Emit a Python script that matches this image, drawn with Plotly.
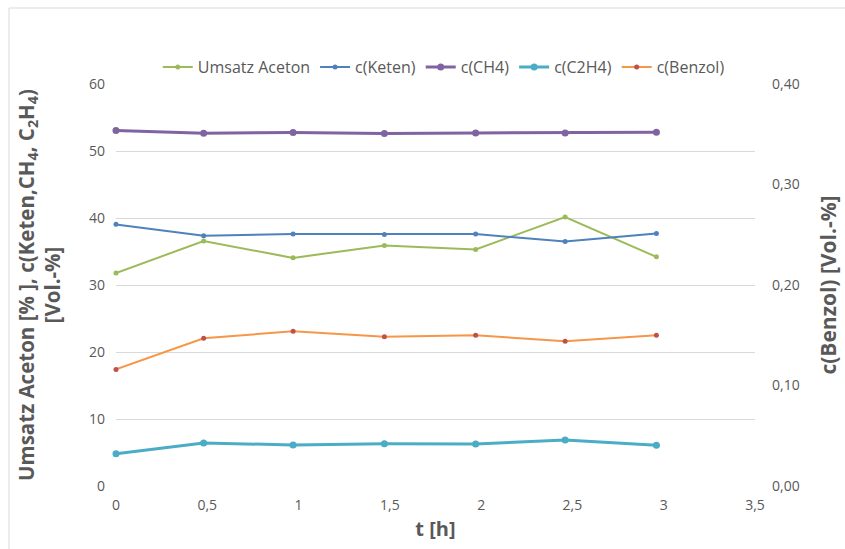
import plotly.graph_objects as go

# Messzeitpunkte [h]
t_h = [0, 0.48, 0.97, 1.47, 1.97, 2.46, 2.96]

# Linke Achse: Umsatz [%] bzw. Konzentrationen [Vol.-%]
umsatz_aceton = [31.8, 36.55, 34.05, 35.9, 35.3, 40.15, 34.2]
c_keten = [39.05, 37.35, 37.6, 37.55, 37.6, 36.5, 37.7]
c_ch4 = [53.05, 52.65, 52.75, 52.6, 52.7, 52.7, 52.8]
c_c2h4 = [4.82, 6.42, 6.12, 6.31, 6.27, 6.87, 6.07]

# Rechte Achse: Benzol [Vol.-%]
c_benzol = [0.116, 0.147, 0.154, 0.1485, 0.150, 0.144, 0.150]

x_ticks = [0, 0.5, 1, 1.5, 2, 2.5, 3, 3.5]
y_left_ticks = [0, 10, 20, 30, 40, 50, 60]
y_right_ticks = [0.0, 0.1, 0.2, 0.3, 0.4]

GREY = "#595959"
FONT = "Open Sans"

fig = go.Figure()


def add_series(name, y, line_color, marker_color, width, msize, axis="y"):
    fig.add_trace(go.Scatter(
        x=t_h, y=y, name=name, mode="lines+markers", yaxis=axis,
        line=dict(color=line_color, width=width),
        marker=dict(color=marker_color, size=msize),
        cliponaxis=False,
    ))


add_series("Umsatz Aceton", umsatz_aceton, "#9BBB59", "#9BBB59", 2, 5)
add_series("c(Keten)", c_keten, "#4F81BD", "#4F81BD", 2, 5)
add_series("c(CH4)", c_ch4, "#8064A2", "#8064A2", 3, 7)
add_series("c(C2H4)", c_c2h4, "#4BACC6", "#4BACC6", 3, 7)
add_series("c(Benzol)", c_benzol, "#F79646", "#C0504D", 2, 5, axis="y2")

fig.update_layout(
    width=845, height=549,
    margin=dict(l=116, r=90, t=84, b=63),
    paper_bgcolor="white", plot_bgcolor="white",
    separators=",.",
    font=dict(family=FONT, size=14, color=GREY),
    showlegend=True,
    legend=dict(
        orientation="h", x=0.513, xanchor="center", y=1.042, yanchor="middle",
        font=dict(family=FONT, size=16, color=GREY),
        itemwidth=30, tracegroupgap=0, bgcolor="rgba(0,0,0,0)",
    ),
    xaxis=dict(
        range=[0, 3.5], tickvals=x_ticks, tickformat=".1~f",
        showgrid=False, zeroline=False, showline=False, automargin=False,
        ticks="", ticklabelstandoff=9,
        tickfont=dict(family=FONT, size=14, color=GREY),
        title=dict(text="<b>t [h]</b>", standoff=8,
                   font=dict(family=FONT, size=20, color=GREY)),
    ),
    yaxis=dict(
        range=[0, 60], tickvals=y_left_ticks,
        showgrid=True, gridcolor="#D9D9D9", gridwidth=1, automargin=False,
        zeroline=False, showline=False, ticks="", ticklabelstandoff=10,
        tickfont=dict(family=FONT, size=14, color=GREY),
        title=dict(
            text="<b>Umsatz Aceton [% ], c(Keten,CH<sub>4</sub>, C<sub>2</sub>H<sub>4</sub>)<br>[Vol.-%]</b>",
            standoff=22, font=dict(family=FONT, size=20.5, color=GREY)),
    ),
    yaxis2=dict(
        range=[0, 0.4], tickvals=y_right_ticks, tickformat=".2f",
        overlaying="y", side="right", automargin=False,
        showgrid=False, zeroline=False, showline=False, ticks="",
        ticklabelstandoff=16,
        tickfont=dict(family=FONT, size=14, color=GREY),
        title=dict(text="<b>c(Benzol) [Vol.-%]</b>", standoff=22,
                   font=dict(family=FONT, size=21, color=GREY)),
    ),
)

# Rahmen des Diagrammbereichs (linke und obere Kante sichtbar)
fig.add_shape(type="rect", xref="paper", yref="paper",
              x0=(9 - 116) / 639, x1=(860 - 116) / 639,
              y0=(486 - 570) / 402, y1=(486 - 8) / 402,
              line=dict(color="#D9D9D9", width=1), layer="below")

fig.write_html("out.html")
